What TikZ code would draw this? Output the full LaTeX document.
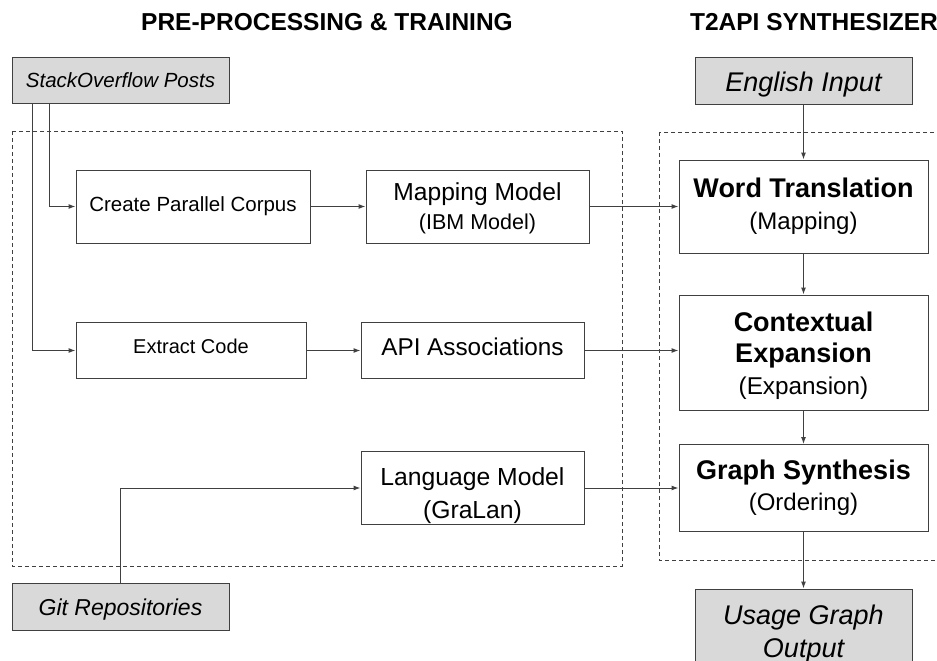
\documentclass[tikz,border=0pt]{standalone}
\usepackage{fontspec}
\setmainfont{Liberation Sans}
\usetikzlibrary{arrows.meta}
\definecolor{srcgray}{HTML}{D9D9D9}
\definecolor{linegray}{HTML}{404040}
\newcommand{\fs}[2]{\fontsize{#1}{#2}\selectfont}
\newcommand{\hd}[1]{{\fs{27}{31}\bfseries #1}}
% struts to nudge a node's text down (\up) or up (\lo)
\newcommand{\up}[1]{\rule{0pt}{#1}}
\newcommand{\lo}[1]{\rule[-#1]{0pt}{#1}}

\begin{document}
\begin{tikzpicture}[x=1pt, y=-1pt, line width=1pt,
  box/.style={draw=linegray, fill=white, align=center, inner sep=0pt},
  src/.style={box, fill=srcgray, font=\itshape},
  group/.style={draw=linegray, dash pattern=on 4pt off 3pt, line width=0.9pt},
  arr/.style={draw=linegray, -{Latex[length=7pt, width=5pt]}},
  title/.style={font=\fs{24.5}{28}\bfseries}]
  \useasboundingbox (0,0) rectangle (937,661);
  \clip (0,0) rectangle (937,661);
  % the two stages
  \draw[group] (12,131) rectangle (622,566);
  \draw[group] (659,132) rectangle (960,560);
  \node[title] (tprep) at (327,22) {PRE-PROCESSING \& TRAINING};
  \node[title] (tsyn) at (814,22) {T2API SYNTHESIZER};

  % sources and output
  \node[src, minimum width=217pt, minimum height=45pt, font=\itshape\fs{20.5}{24}] (so) at (120.5,80.5) {StackOverflow Posts};
  \node[src, minimum width=217pt, minimum height=47pt, font=\itshape\fs{23}{27}] (git) at (120.5,606.5) {\up{22pt}Git Repositories};
  \node[src, minimum width=217pt, minimum height=46pt, font=\itshape\fs{27}{31}] (eng) at (803.5,81) {\up{27pt}English Input};
  \node[src, minimum width=217pt, minimum height=84pt, font=\itshape\fs{27}{33}] (out) at (803.5,631) {\up{26pt}Usage Graph\\Output};

  % training side
  \node[box, minimum width=234pt, minimum height=73pt, font=\fs{20.5}{24}] (corpus) at (193,206.5) {Create Parallel Corpus};
  \node[box, minimum width=223pt, minimum height=73pt, font=\fs{24.6}{29}] (mapm) at (477.5,206.5) {\up{22pt}Mapping Model\\{\fs{21.5}{29}(IBM Model)}};
  \node[box, minimum width=230pt, minimum height=56pt, font=\fs{20}{24}] (extract) at (191,350.5) {Extract Code\lo{8pt}};
  \node[box, minimum width=223pt, minimum height=56pt, font=\fs{24.3}{27}] (api) at (472.5,350.5) {API Associations\lo{8pt}};
  \node[box, minimum width=223pt, minimum height=68pt, font=\fs{24.7}{33}] (lang) at (472.5,488) {\up{34pt}Language Model\\(GraLan)};

  % synthesizer side
  \node[box, minimum width=249pt, minimum height=93pt, font=\fs{24}{32}] (word) at (803.5,206.5) {\hd{Word Translation}\\(Mapping)};
  \node[box, minimum width=249pt, minimum height=115pt, font=\fs{24.3}{31.5}] (ctx) at (803.5,352.5) {\up{26pt}\hd{Contextual}\\\hd{Expansion}\\(Expansion)};
  \node[box, minimum width=249pt, minimum height=87pt, font=\fs{24}{31}] (gsyn) at (803.5,488) {\hd{Graph Synthesis}\\(Ordering)};

  \draw[arr] ([xshift=-71pt]so.south) |- (corpus.west);
  \draw[arr] ([xshift=-88.5pt]so.south) |- (extract.west);
  \draw[arr] (git.north) |- (lang.west);
  \draw[arr] (corpus) -- (mapm);
  \draw[arr] (extract) -- (api);
  \draw[arr] (mapm.east) -- (mapm.east -| word.west);
  \draw[arr] (api.east) -- (api.east -| ctx.west);
  \draw[arr] (lang.east) -- (lang.east -| gsyn.west);
  \draw[arr] (eng) -- (word);
  \draw[arr] (word) -- (ctx);
  \draw[arr] (ctx) -- (gsyn);
  \draw[arr] (gsyn) -- (out);
\end{tikzpicture}
\end{document}
